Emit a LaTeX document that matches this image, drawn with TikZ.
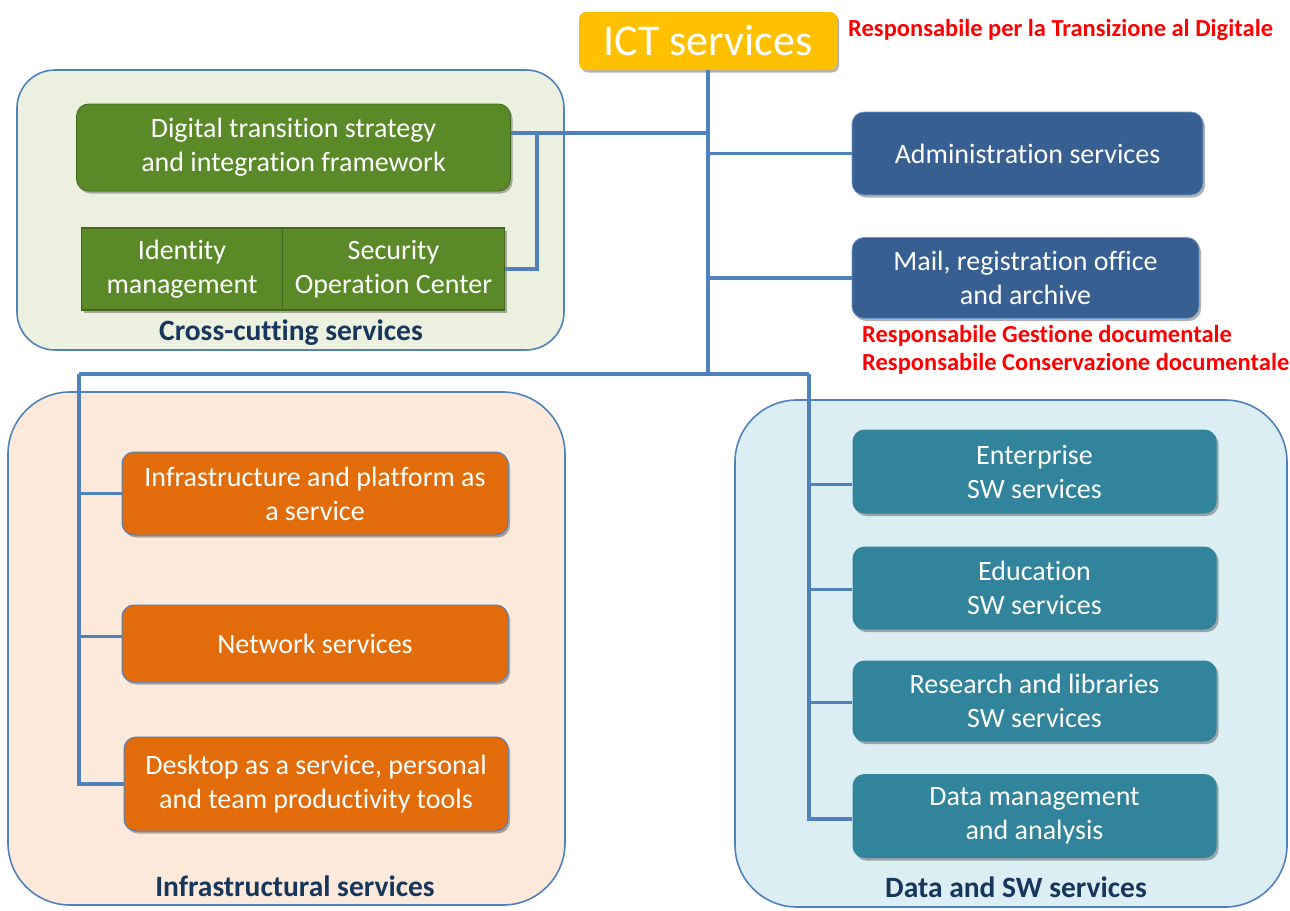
\documentclass[tikz,border=0pt]{standalone}
\usepackage{fontspec}
\setmainfont{Carlito}[Ligatures=NoCommon]
\usetikzlibrary{shadows}

\definecolor{ictgold}{HTML}{FFC000}
\definecolor{crossgreen}{HTML}{5A8A28}
\definecolor{crossedge}{HTML}{41661C}
\definecolor{adminblue}{HTML}{375F92}
\definecolor{infraorange}{HTML}{E36C0A}
\definecolor{datateal}{HTML}{31849B}
\definecolor{framebg}{HTML}{4F81BD}
\definecolor{linkblue}{HTML}{4F81BD}
\definecolor{navy}{HTML}{17365D}
\definecolor{bgcross}{HTML}{EBF1DE}
\definecolor{bginfra}{HTML}{FDE9D9}
\definecolor{bgdata}{HTML}{DAEEF3}
\definecolor{respred}{HTML}{FF0000}

\tikzset{
  softshadow/.style={drop shadow={shadow xshift=2pt, shadow yshift=-2.5pt, opacity=0.3, fill=black}},
  group/.style={draw=framebg, line width=1.6pt, rounded corners=#1},
  svcbox/.style={rounded corners=12pt, text=white, align=center, inner sep=0pt,
    font=\fontsize{28}{34}\selectfont, softshadow},
  crossbox/.style={svcbox, fill=crossgreen, draw=crossedge, line width=0.8pt},
  squarebox/.style={fill=crossgreen, draw=crossedge, line width=1.2pt, text=white, align=center,
    inner sep=0pt, font=\fontsize{28}{34}\selectfont, softshadow},
  adminbox/.style={svcbox, fill=adminblue, draw=linkblue!80, line width=0.8pt},
  infrabox/.style={svcbox, fill=infraorange, draw=linkblue, line width=1pt},
  databox/.style={svcbox, fill=datateal},
  grouplabel/.style={text=navy, font=\fontsize{29.5}{34}\selectfont\bfseries},
  resplabel/.style={text=respred, font=\fontsize{24.5}{28}\selectfont\bfseries, anchor=west, inner sep=0pt},
  link/.style={draw=linkblue, line width=3.2pt}
}

\begin{document}
\begin{tikzpicture}[x=1pt, y=-1pt]
  \useasboundingbox (0,0) rectangle (1290,910);

  % service group frames
  \draw[group=38pt, fill=bgcross] (17,70) rectangle (564,350);
  \draw[group=62pt, fill=bginfra] (8,392) rectangle (565,905);
  \draw[group=62pt, fill=bgdata] (735,400) rectangle (1287,907);

  % root
  \node[svcbox, fill=ictgold, rounded corners=7pt, minimum width=258pt, minimum height=58pt,
        font=\fontsize{44}{50}\selectfont] (ict) at (708,41) {ICT services};
  \node[resplabel] (rtd) at (848,30) {Responsabile per la Transizione al Digitale};

  % cross-cutting services
  \node[crossbox, minimum width=434pt, minimum height=87pt] (dts) at (293.5,147.5)
    {Digital transition strategy\\and integration framework};
  \node[squarebox, minimum width=201pt, minimum height=82pt] (idm) at (182,269)
    {Identity\\management};
  \node[squarebox, minimum width=222pt, minimum height=82pt] (soc) at (393.5,269)
    {Security\\Operation Center};
  \node[grouplabel] (crosslbl) at (291,333) {Cross-cutting services};

  % administration
  \node[adminbox, minimum width=351pt, minimum height=83pt] (adm) at (1027.5,153.5)
    {Administration services};
  \node[adminbox, minimum width=347pt, minimum height=81pt] (mail) at (1025.5,278)
    {Mail, registration office\\and archive};
  \node[resplabel] (rgd) at (862,336) {Responsabile Gestione documentale};
  \node[resplabel] (rcd) at (862,364) {Responsabile Conservazione documentale};

  % infrastructural services
  \node[infrabox, minimum width=386pt, minimum height=83pt] (paas) at (315,493.5)
    {Infrastructure and platform as\\a service};
  \node[infrabox, minimum width=386pt, minimum height=77pt] (net) at (315,643.5)
    {Network services};
  \node[infrabox, minimum width=384pt, minimum height=94pt] (daas) at (316,784)
    {Desktop as a service, personal\\and team productivity tools};
  \node[grouplabel] (infralbl) at (295,886) {Infrastructural services};

  % data and software services
  \node[databox, minimum width=364pt, minimum height=84pt] (ent) at (1034.5,471.5)
    {Enterprise\\SW services};
  \node[databox, minimum width=364pt, minimum height=83pt] (edu) at (1034.5,588)
    {Education\\SW services};
  \node[databox, minimum width=364pt, minimum height=81pt] (res) at (1034.5,701)
    {Research and libraries\\SW services};
  \node[databox, minimum width=364pt, minimum height=84pt] (dma) at (1034.5,816)
    {Data management\\and analysis};
  \node[grouplabel] (datalbl) at (1016,887) {Data and SW services};

  % connector junctions
  \coordinate (hub) at (708,374);
  \coordinate (crossjoin) at (708,133);
  \coordinate (socjoin) at (537,133);
  \coordinate (infratop) at (79,374);
  \coordinate (datatop) at (809,374);

  % connectors
  \draw[link] (ict.south) -- (hub);
  \draw[link] (dts.east |- crossjoin) -- (crossjoin);
  \draw[link] (socjoin) -- (socjoin |- soc.east) -- (soc.east);
  \draw[link] (adm.west -| hub) -- (adm.west);
  \draw[link] (mail.west -| hub) -- (mail.west);
  \draw[link] (infratop) -- (datatop);
  \draw[link] (infratop) -- (infratop |- daas.west) -- (daas.west);
  \draw[link] (infratop |- paas.west) -- (paas.west);
  \draw[link] ([yshift=7pt]infratop |- net.west) -- ([yshift=7pt]net.west);
  \draw[link] (datatop) -- ([yshift=-3pt]datatop |- dma.west) -- ([yshift=-3pt]dma.west);
  \draw[link] ([yshift=-13pt]datatop |- ent.west) -- ([yshift=-13pt]ent.west);
  \draw[link] ([yshift=-1.5pt]datatop |- edu.west) -- ([yshift=-1.5pt]edu.west);
  \draw[link] ([yshift=-1.5pt]datatop |- res.west) -- ([yshift=-1.5pt]res.west);
\end{tikzpicture}
\end{document}
